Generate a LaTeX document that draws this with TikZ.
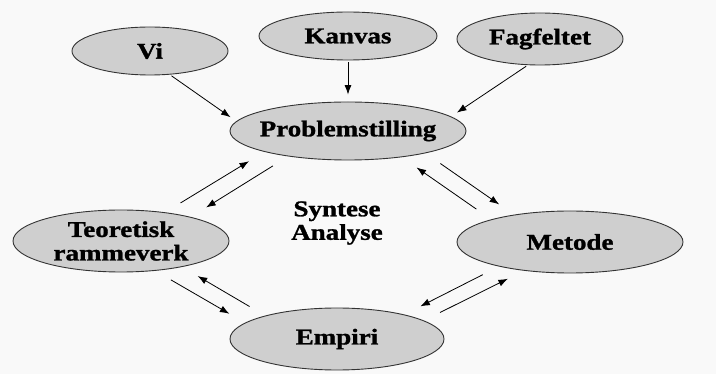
\documentclass[tikz,border=0pt]{standalone}
\usepackage{fontspec}
\setmainfont{Liberation Serif}[FakeStretch=1.2,BoldFeatures={FakeBold=1.2}]
\usetikzlibrary{shapes.geometric,arrows.meta}
\definecolor{ovalgray}{gray}{0.81}
\definecolor{bggray}{gray}{0.975}
\tikzset{obox/.style={
    ellipse,
    draw=black!80,
    fill=ovalgray,
    line width=0.9pt,
    inner xsep=-25pt,
    inner ysep=-5pt,
    align=center,
    font=\fontsize{22.5}{23.5}\selectfont\bfseries
  },
  tekst/.style={align=center,font=\fontsize{22.5}{23.5}\selectfont\bfseries},
  pil/.style={->,shorten >=18pt,shorten <=18pt},
  topp/.style={->,shorten >=7pt,shorten <=2pt},
}

\begin{document}
\begin{tikzpicture}[x=1pt,y=-1pt,>={Latex[length=9.5pt,width=7pt]},line width=0.8pt]
  \fill[bggray] (0,0) rectangle (716,374);
  \useasboundingbox (0,0) rectangle (716,374);
  % top row
  \node[obox,minimum width=156pt,minimum height=48pt] (vi) at (150,51) {Vi};
  \node[obox,minimum width=178pt,minimum height=48pt] (kanvas) at (348,36) {Kanvas};
  \node[obox,minimum width=166pt,minimum height=52pt] (fagfelt) at (540,39) {Fagfeltet};
  % cycle
  \node[obox,minimum width=236pt,minimum height=58pt] (problem) at (348,131) {Problemstilling};
  \node[obox,minimum width=216pt,minimum height=62pt] (teori) at (121,241) {Teoretisk\\rammeverk};
  \node[obox,minimum width=226pt,minimum height=62pt] (metode) at (570,242) {Metode};
  \node[obox,minimum width=214pt,minimum height=62pt] (empiri) at (337,339) {Empiri};
  \node[tekst] (synt) at (337,223) {Syntese\\Analyse};

  \draw[topp] (vi.310) -- (problem.175);
  \draw[topp] (kanvas.south) -- (problem.north);
  \draw[topp] (fagfelt.245) -- (problem.8);

  \draw[pil] (teori.33) -- (problem.194);
  \draw[pil] (problem.203) -- (teori.19);
  \draw[pil] (metode.164) -- (problem.334);
  \draw[pil] (problem.344) -- (metode.154);
  \draw[pil] (empiri.162) -- (teori.337);
  \draw[pil] (teori.319) -- (empiri.170);
  \draw[pil] (metode.199) -- (empiri.20);
  \draw[pil] (empiri.12) -- (metode.212);
\end{tikzpicture}
\end{document}
